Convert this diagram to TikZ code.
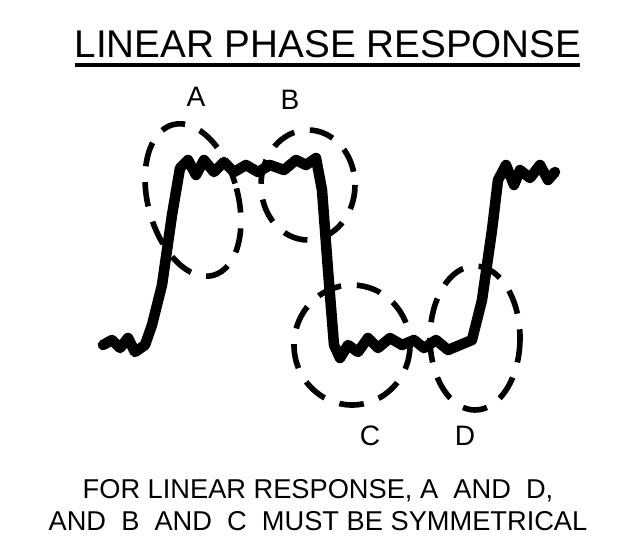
\documentclass[tikz,border=0pt]{standalone}
\usepackage{fontspec}
\setmainfont{Liberation Sans}
\tikzset{
    wave/.style={line width=6pt, line join=round, line cap=round},
    lobe/.style={line width=3.2pt, dash pattern=on 14pt off 9pt},
    letter/.style={font=\fontsize{16}{18}\selectfont},
    caption/.style={font=\fontsize{15.5}{18}\selectfont, align=center}
}
\begin{document}
\begin{tikzpicture}[x=0.02cm, y=-0.02cm]
\useasboundingbox (0,0) rectangle (637,556);

\node (title) at (328,44) {\fontsize{22}{24}\selectfont LINEAR PHASE RESPONSE};
\draw[line width=2.5pt] (75,65) -- (580,65);

% the response
\draw[wave] (103,345) -- (112,340) -- (120,348) -- (128,338) -- (135,352) -- (145,345)
    -- (152,325) -- (162,285) -- (172,215) -- (180,168) -- (188,160) -- (196,175)
    -- (204,160) -- (214,172) -- (224,162) -- (234,172) -- (246,165) -- (258,172)
    -- (270,165) -- (284,170) -- (296,160) -- (306,165) -- (316,158) -- (322,190)
    -- (328,270) -- (334,345) -- (340,358) -- (348,345) -- (358,352) -- (368,338)
    -- (378,348) -- (390,338) -- (402,345) -- (414,340) -- (424,348) -- (436,340)
    -- (448,350) -- (460,345) -- (472,340) -- (482,300) -- (492,230) -- (498,180)
    -- (506,165) -- (514,185) -- (520,170) -- (530,178) -- (540,165) -- (548,180) -- (555,172);

% symmetry regions
\draw[lobe] (193,200) ellipse[x radius=45, y radius=78, rotate=15];
\draw[lobe] (308,185) ellipse[x radius=47, y radius=55];
\draw[lobe] (352,345) ellipse[x radius=58, y radius=60];
\draw[lobe] (475,338) ellipse[x radius=45, y radius=72];

\node[letter] (A) at (196,97) {A};
\node[letter] (B) at (290,100) {B};
\node[letter] (C) at (370,436) {C};
\node[letter] (D) at (465,436) {D};

\node[caption] (note) at (318,505) {FOR LINEAR RESPONSE, A\ \ AND\ \ D,\\AND\ \ B\ \ AND\ \ C\ \ MUST BE SYMMETRICAL};
\end{tikzpicture}
\end{document}
